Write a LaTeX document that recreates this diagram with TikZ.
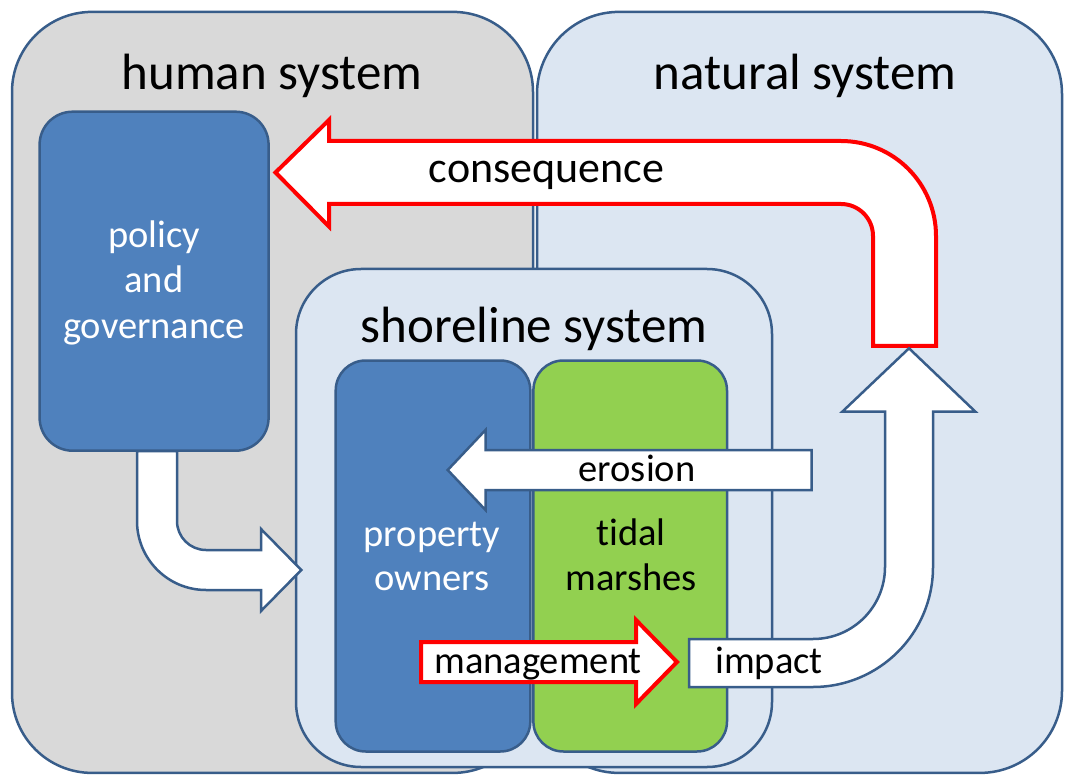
\documentclass[tikz,border=0pt]{standalone}
\usepackage{fontspec}
\setmainfont{Carlito}[Ligatures={NoCommon}]
\definecolor{bord}{HTML}{385D8A}
\definecolor{humanfill}{HTML}{D9D9D9}
\definecolor{natfill}{HTML}{DCE6F2}
\definecolor{actorfill}{HTML}{4F81BD}
\definecolor{marshfill}{HTML}{92D050}
\definecolor{redline}{HTML}{FF0000}
\begin{document}
\begin{tikzpicture}[x=1pt,y=-1pt,
  box/.style={draw=bord, line width=2.5pt, inner sep=0pt, outer sep=0pt},
  blockarrow/.style={draw=bord, fill=white, line width=2.5pt, line join=miter},
  redarrow/.style={draw=redline, fill=white, line width=4pt, line join=miter},
  title/.style={anchor=base, inner sep=0pt, font=\fontsize{51}{61}\selectfont},
  lbl/.style={anchor=base, inner sep=0pt, font=\fontsize{38.5}{46}\selectfont},
  wlbl/.style={lbl, text=white}]
\useasboundingbox (0,0) rectangle (1065,775);
% system boxes
\node[box, fill=humanfill, rounded corners=80pt, minimum width=521pt, minimum height=761pt] (human) at (272.5,392.4) {};
\node[box, fill=natfill, rounded corners=82pt, minimum width=525pt, minimum height=761pt] (natural) at (799.5,392.4) {};
\node[box, fill=natfill, rounded corners=65pt, minimum width=476pt, minimum height=498pt] (shore) at (534,518) {};
% policy -> shoreline arrow
\draw[blockarrow] (177,451) -- (177,521) .. controls (177,537) and (190,550) .. (206,550) -- (261,550) -- (261,529) -- (301.3,570) -- (261,611) -- (261,590) -- (206,590) .. controls (167.9,590) and (137,559.1) .. (137,521) -- (137,451) -- cycle;
% actor boxes
\node[box, fill=actorfill, rounded corners=33pt, minimum width=229pt, minimum height=339pt] (policy) at (154.1,281.2) {};
\node[box, fill=actorfill, rounded corners=30pt, minimum width=194.6pt, minimum height=391pt] (owners) at (433,556) {};
\node[box, fill=marshfill, rounded corners=30pt, minimum width=193.6pt, minimum height=391pt] (marsh) at (630.2,556) {};
% titles
\node[title] (thuman) at (272,90) {human system};
\node[title] (tnat) at (805,90) {natural system};
\node[title] (tshore) at (534,343) {shoreline system};
% box labels
\node[wlbl] (p1) at (154,248) {policy};
\node[wlbl] (p2) at (154,293) {and};
\node[wlbl] (p3) at (154,338) {governance};
\node[wlbl] (o1) at (432,546) {property};
\node[wlbl] (o2) at (432,590) {owners};
\node[lbl] (m1) at (631,545) {t\kern0pt idal};
\node[lbl] (m2) at (631,590) {marshes};
% consequence arrow
\draw[redarrow] (275.5,172.5) -- (329,120) -- (329,141) -- (841,141) .. controls (893.5,141) and (936,183.5) .. (936,236) -- (936,346) -- (873,346) -- (873,236) .. controls (873,218.3) and (858.7,204) .. (841,204) -- (329,204) -- (329,226.5) -- cycle;
\node[anchor=base, inner sep=0pt, font=\fontsize{44}{52}\selectfont] (cons) at (546.5,182.7) {consequence};
% erosion arrow
\draw[blockarrow] (447.7,470) -- (485.5,430) -- (485.5,450) -- (811.6,450) -- (811.6,490) -- (485.5,490) -- (485.5,510) -- cycle;
\node[lbl] (ero) at (637,481.7) {erosion};
% impact arrow
\draw[blockarrow] (689,639) -- (813,639) .. controls (852.8,639) and (885,606.8) .. (885,567) -- (885,411.7) -- (842.3,411.7) -- (909,348.3) -- (975.4,411.7) -- (933,411.7) -- (933,567) .. controls (933,633.3) and (879.3,687) .. (813,687) -- (689,687) -- cycle;
\node[lbl] (imp) at (769,673) {impact};
% management arrow
\draw[redarrow] (421,642) -- (636,642) -- (636,620) -- (677,662) -- (636,704) -- (636,682) -- (421,682) -- cycle;
\node[lbl] (mgmt) at (538,673) {management};
\end{tikzpicture}
\end{document}
